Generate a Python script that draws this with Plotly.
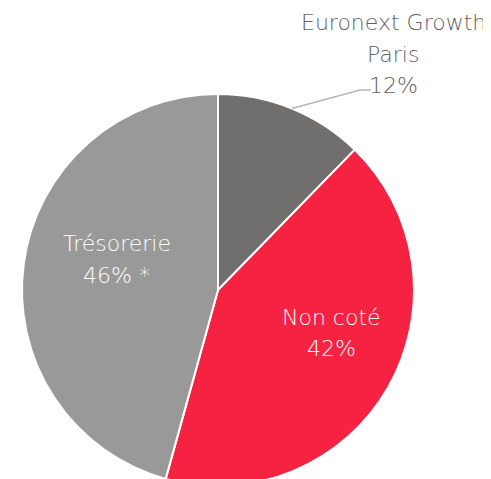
import numpy as np
import plotly.graph_objects as go

# Répartition du portefeuille.
labels = ['Euronext Growth Paris', 'Non coté', 'Trésorerie']
values = [12.3, 42.0, 45.7]
label_lines = [['Euronext Growth', 'Paris'], ['Non coté'], ['Trésorerie']]
suffixes = ['', '', ' *']
colors = ['#716e6e', '#f62241', '#999999']

# Le corps de la page a une marge de 8px : positions en pixels de la figure.
W, H = 491, 479
cx, cy, r = 210, 282, 196

fig = go.Figure()

fig.add_trace(
    go.Pie(
        labels=labels,
        values=values,
        textinfo='none',
        sort=False,
        direction='clockwise',
        rotation=0,
        marker=dict(colors=colors, line=dict(color='white', width=2)),
        hoverinfo='label+percent',
        showlegend=False,
        domain=dict(
            x=[(cx - r) / W, (cx + r) / W],
            y=[(H - cy - r) / H, (H - cy + r) / H],
        ),
    )
)

total = sum(values)
shares = [v / total for v in values]

# Position (centre en x, milieu de la première ligne en y) et couleur des étiquettes.
label_pos = [(385, 14.5), (323, 309), (108.5, 235.5)]
label_color = ['#646161', 'white', 'white']
line_step = 31.5

for i in range(len(labels)):
    lines = label_lines[i] + ['{:.0%}'.format(shares[i]) + suffixes[i]]
    x, y = label_pos[i]
    for j, line in enumerate(lines):
        fig.add_annotation(
            x=x / W, y=1 - (y + line_step * j) / H,
            xref='paper', yref='paper',
            text=line, showarrow=False,
            xanchor='center', yanchor='middle',
            font=dict(family='DejaVu Sans', size=22, weight=300, color=label_color[i]),
        )

# Ligne de rappel de la première part, partant du milieu de son arc.
mid = np.deg2rad(shares[0] * 360 / 2)
x0, y0 = cx + r * np.sin(mid), cy - r * np.cos(mid)
fig.add_shape(
    type='path',
    xref='paper', yref='paper',
    path='M {:.4f},{:.4f} L {:.4f},{:.4f} L {:.4f},{:.4f}'.format(
        x0 / W, 1 - y0 / H, 352 / W, 1 - 82 / H, 363 / W, 1 - 82 / H),
    line=dict(color='#b5b5b5', width=1.5),
)

fig.update_layout(
    width=W, height=H,
    margin=dict(t=0, r=0, b=0, l=0, pad=0),
    paper_bgcolor='white',
    plot_bgcolor='white',
)

fig.write_html('out.html')
